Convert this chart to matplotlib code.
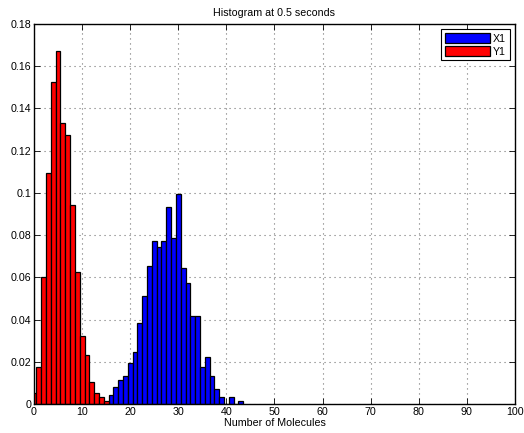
import matplotlib
matplotlib.use("Agg")
import matplotlib.pyplot as plt
import numpy as np

plt.rcParams['font.family'] = ['Liberation Sans', 'DejaVu Sans']

# bin centres and normalised counts
y1_bins = list(range(0, 16))
y1_vals = [0.0054, 0.0174, 0.0603, 0.1093, 0.1524, 0.1671, 0.1331, 0.1273,
           0.0943, 0.0625, 0.0324, 0.0234, 0.0103, 0.0054, 0.0033, 0.0013]

x1_bins = list(range(16, 44))
x1_vals = [0.0043, 0.0082, 0.0112, 0.0133, 0.0194, 0.0245, 0.0384, 0.0513,
           0.0654, 0.0773, 0.0744, 0.0773, 0.0934, 0.0784, 0.0994, 0.0643,
           0.0574, 0.0416, 0.0416, 0.0174, 0.0224, 0.0133, 0.0073, 0.0033,
           0.0, 0.0033, 0.0, 0.0014]

title = "Histogram at 0.5 seconds"
xlabel = "Number of Molecules"
xticks = list(range(0, 101, 10))
yticks = [0, 0.02, 0.04, 0.06, 0.08, 0.10, 0.12, 0.14, 0.16, 0.18]
ytick_labels = ["0", "0.02", "0.04", "0.06", "0.08", "0.1", "0.12", "0.14", "0.16", "0.18"]

fs = 7.7
fig = plt.figure(figsize=(5.24, 4.33), dpi=100)
ax = fig.add_axes([34/524, 1-404/433, (515-34)/524, (404-24)/433])

ax.bar(x1_bins, x1_vals, width=1.0, color='#0000ff', edgecolor='black',
       linewidth=0.9, label='X1', zorder=2)
ax.bar(y1_bins, y1_vals, width=1.0, color='#ff0000', edgecolor='black',
       linewidth=0.9, label='Y1', zorder=2)

ax.set_xlim(0, 100)
ax.set_ylim(0, 0.18)
ax.set_xticks(xticks)
ax.set_yticks(yticks)
ax.set_yticklabels(ytick_labels)
ax.tick_params(direction='in', top=True, right=True, labelsize=fs, length=4,
               width=0.6, pad=2)
ax.grid(True, linestyle=(0, (1, 3.5)), color='0.45', linewidth=0.8)
ax.set_axisbelow(True)
for s in ax.spines.values():
    s.set_linewidth(1.0)

ax.set_title(title, fontsize=fs, pad=6)
ax.set_xlabel(xlabel, fontsize=fs, labelpad=1)

leg = ax.legend(loc='upper right', fontsize=fs, frameon=True, fancybox=False,
                edgecolor='black', framealpha=1, handlelength=4.2,
                handleheight=1.0, handletextpad=0.3, borderpad=0.35,
                labelspacing=0.25, borderaxespad=0.5)
leg.get_frame().set_linewidth(0.8)

fig.savefig("out.png", dpi=100)
